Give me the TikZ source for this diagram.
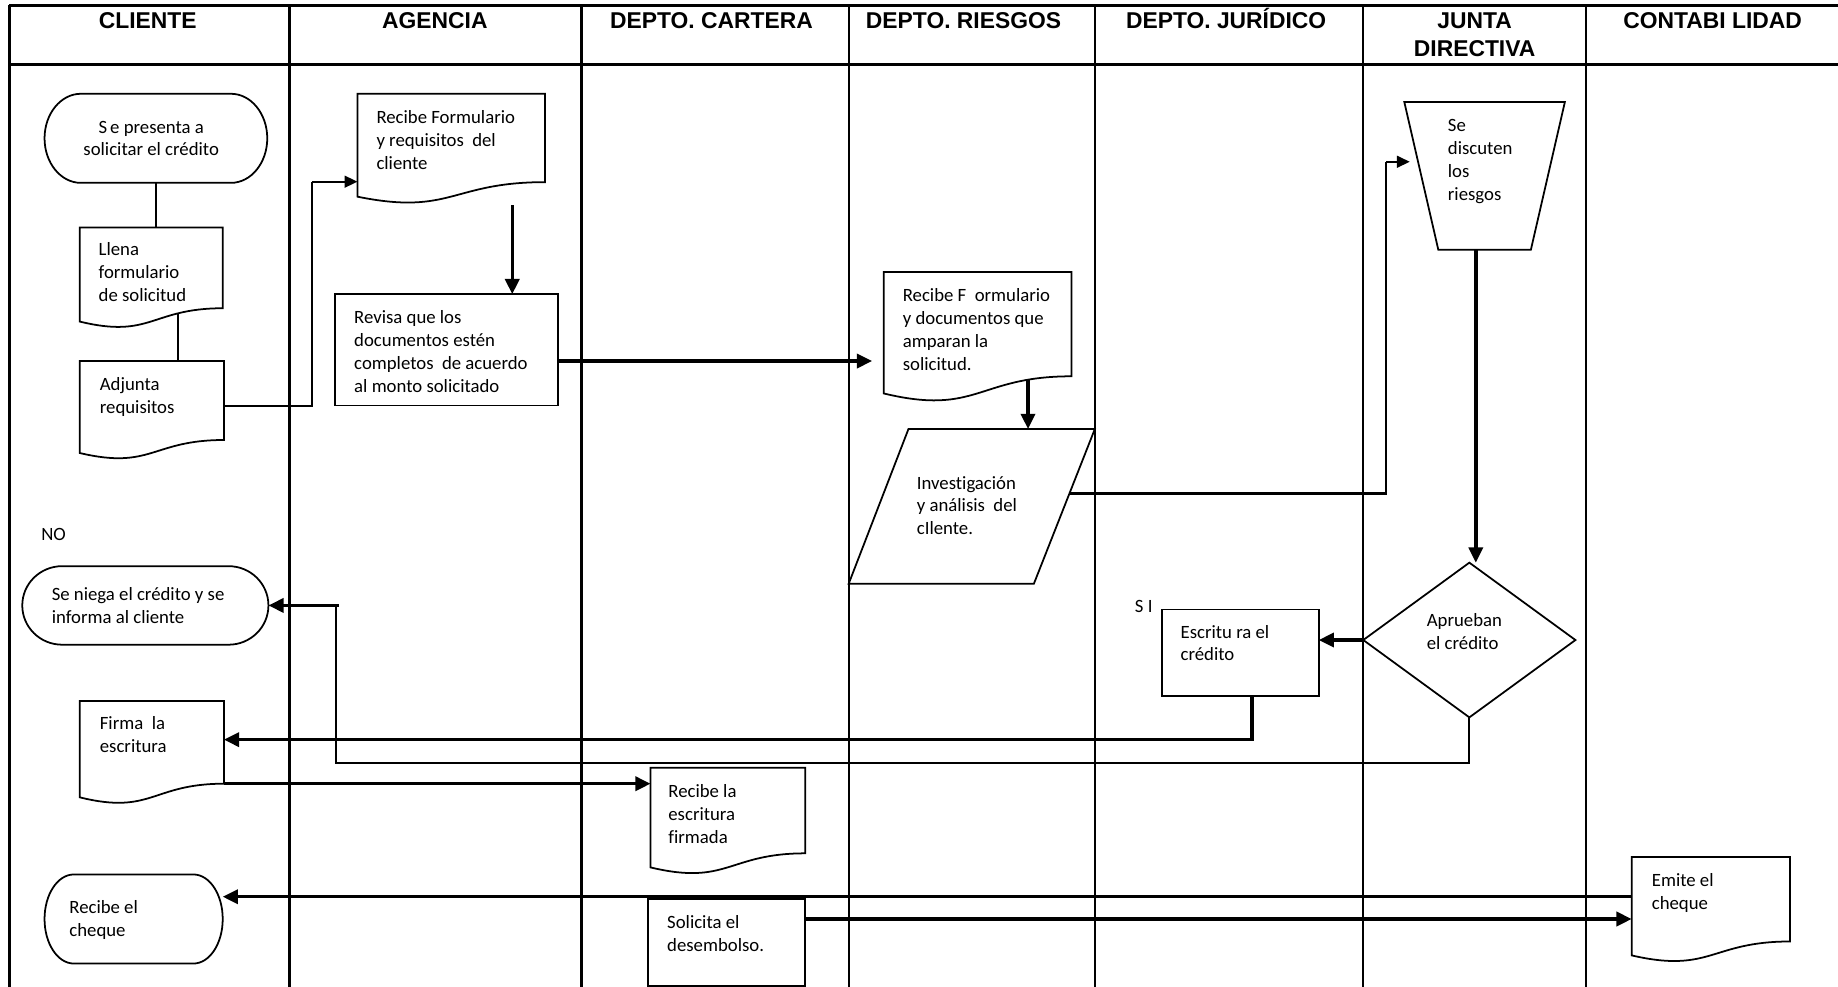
\documentclass[tikz,border=0pt]{standalone}
\usepackage{fontspec}
\setmainfont{Carlito}[Ligatures=NoCommon]
\newfontfamily\hdrfont{Liberation Sans}
\usetikzlibrary{arrows.meta,calc}

% outline of a flowchart "document" shape, built on a placeholder node
\newcommand\docshape[1]{%
  \draw[shp] (#1.north west) -- (#1.north east)
    -- ($(#1.north east)!0.802!(#1.south east)$) coordinate (#1-r)
    .. controls ($(#1.north)!0.802!(#1.south)$) and ($(#1.north)!1.107!(#1.south)$)
    .. ($(#1.north west)!0.934!(#1.south west)$) -- cycle;}
% terminator with elliptical ends: #2 = x radius, #3 = y radius
\newcommand\termshape[3]{%
  \draw[shp] ($(#1.north east)+(-#2,0)$)
    arc[start angle=-90,end angle=90,x radius=#2,y radius=#3]
    -- ($(#1.south west)+(#2,0)$)
    arc[start angle=90,end angle=270,x radius=#2,y radius=#3] -- cycle;}

\tikzset{
  slot/.style n args={2}{minimum width=#1, minimum height=#2, inner sep=0pt,
    outer sep=0pt, anchor=north west, draw=none},
  shp/.style={line width=1.5pt, line join=miter},
  lane/.style={line width=2pt},
  hline/.style={line width=2.8pt},
  txt/.style={font=\fontsize{16}{19.5}\selectfont, align=left, inner sep=0pt,
    anchor=north west, yshift=-5pt, execute at begin node=\strut},
  lbl/.style={txt, yshift=3pt},
  hdr/.style={font=\hdrfont\bfseries\fontsize{19.5}{24}\selectfont, align=center,
    inner sep=0pt, anchor=base},
  thk/.style={line width=2.9pt, -{Triangle[length=13pt,width=12pt]}},
  med/.style={line width=1.8pt},
  medarr/.style={line width=1.8pt, -{Triangle[length=11pt,width=10pt]}},
  thn/.style={line width=1.2pt},
}

\begin{document}
\begin{tikzpicture}[x=1pt,y=-1pt]
\useasboundingbox (0,0) rectangle (1568,842);

% ---- swimlane grid ----
\draw[hline] (8,5) -- (1568,5);
\draw[hline] (8,55) -- (1568,55);
\foreach \lx in {8,247,496,724,934,1163,1353}
  \draw[lane] (\lx,4) -- (\lx,842);

\node[hdr] (h1) at (126,24) {CLIENTE};
\node[hdr] (h2) at (371,24) {AGENCIA};
\node[hdr] (h3) at (607,24) {DEPTO. CARTERA};
\node[hdr] (h4) at (822,24) {DEPTO. RIESGOS};
\node[hdr] (h5) at (1046,24) {DEPTO. JURÍDICO};
\node[hdr] (h6) at (1258,24) {JUNTA};
\node[hdr] (h6b) at (1258,48) {DIRECTIVA};
\node[hdr] (h7) at (1461,24) {CONTABI LIDAD};

% ---- placeholder nodes for the shapes ----
\node[slot={190}{76}]  (a1) at (38,80) {};
\node[slot={122}{86}]  (a2) at (68,194) {};
\node[slot={123}{84}]  (a3) at (68,308) {};
\node[slot={210}{67}]  (a4) at (19,483) {};
\node[slot={123}{88}]  (a5) at (68,598) {};
\node[slot={152}{76}]  (a6) at (38,746) {};
\node[slot={160}{94}]  (b1) at (305,80) {};
\node[slot={190}{95}]  (b2) at (286,251) {};
\node[slot={132}{91}]  (c1) at (555,655) {};
\node[slot={134}{74}]  (c2) at (553,767) {};
\node[slot={160}{111}] (d1) at (754,232) {};
\node[slot={210}{132}] (d2) at (724,366) {};
\node[slot={134}{74}]  (r1) at (991,520) {};
\node[slot={137}{126}] (j1) at (1198,87) {};
\node[slot={181}{132}] (j2) at (1163,480) {};
\node[slot={135}{90}]  (k1) at (1392,731) {};

% ---- shapes ----
\termshape{a1}{31}{38}
\docshape{a2}
\docshape{a3}
\termshape{a4}{34}{33.5}
\docshape{a5}
\termshape{a6}{25}{38}
\docshape{b1}
\draw[shp] (b2.north west) rectangle (b2.south east);
\docshape{c1}
\draw[shp] (c2.north west) rectangle (c2.south east);
\docshape{d1}
\draw[shp] ($(d2.north west)+(51,0)$) -- (d2.north east)
  -- ($(d2.south east)+(-52,0)$) -- (d2.south west) -- cycle;
\draw[shp] (r1.north west) rectangle (r1.south east);
\draw[shp] (j1.north west) -- (j1.north east) -- ($(j1.south east)+(-29,0)$)
  -- ($(j1.south west)+(29,0)$) -- cycle;
\draw[shp] (j2.north) -- (j2.east) -- (j2.south) -- (j2.west) -- cycle;
\docshape{k1}

% ---- texts ----
\node[txt, align=center, anchor=north] (a1t) at (129,98) {S\,e presenta a\\solicitar el crédito};
\node[txt] (a2t) at (84,202) {Llena\\formulario\\de solicitud};
\node[txt] (a3t) at (85,317) {Adjunta\\requisitos};
\node[lbl] (not) at (35,445) {NO};
\node[txt] (a4t) at (44,496) {Se niega el crédito y se\\informa al cliente};
\node[txt] (a5t) at (85,606) {Firma\ \ la\\escritura};
\node[txt] (a6t) at (59,763) {Recibe el\\cheque};
\node[txt] (b1t) at (321,89) {Recibe Formulario\\y requisitos\ \ del\\cliente};
\node[txt] (b2t) at (302,260) {Revisa que los\\documentos estén\\completos\ \ de acuerdo\\al monto solicitado};
\node[txt] (c1t) at (570,664) {Recibe la\\escritura\\firmada};
\node[txt] (c2t) at (569,776) {Solicita el\\desembolso.};
\node[txt] (d1t) at (770,241) {Recibe F\ \ ormulario\\y documentos que\\amparan la\\solicitud.};
\node[txt] (d2t) at (782,401) {Investigación\\y análisis\ \ del\\cIlente.};
\node[lbl] (sit) at (968,507) {S I};
\node[txt] (r1t) at (1007,528) {Escritu ra el\\crédito};
\node[txt] (j1t) at (1235,97) {Se\\discuten\\los\\riesgos};
\node[txt] (j2t) at (1217,518) {Aprueban\\el crédito};
\node[txt] (k1t) at (1409,740) {Emite el\\cheque};

% ---- connector anchor points ----
\coordinate (a2o) at ($(a2.north west)+(84,73)$);
\coordinate (a3o) at ($(a3.north east)+(0,38)$);
\coordinate (b1in) at ($(b1.north west)+(0,75)$);
\coordinate (cb) at ($(b1in)+(-39,0)$);
\coordinate (b1o) at ($(b1.south west)+(132,1)$);
\coordinate (b2o) at ($(b2.east)+(0,9.5)$);
\coordinate (d1o) at ($(d1.north west)+(123,92)$);
\coordinate (d2o) at ($(d2.north east)+(-21.7,55)$);
\coordinate (j1in) at ($(j1.north west)+(11.7,51)$);
\coordinate (cj) at ($(j1in)+(-27,0)$);
\coordinate (j1o) at ($(j1.south west)+(61,0)$);
\coordinate (r1o) at ($(r1.south west)+(77,0)$);
\coordinate (a5in) at ($(a5.north east)+(0,33)$);
\coordinate (nb) at (287,651);
\coordinate (c2o) at ($(c2.north east)+(0,17)$);
\coordinate (k1o) at ($(k1.north west)+(0,34)$);

% ---- connectors ----
\draw[thn] (a1.south) -- (a1.south |- a2.north);
\draw[thn] (a2o) -- (a2o |- a3.north);
\draw[med] (a3o) -| (cb);
\draw[medarr] (cb) -- (b1in);
\draw[thk] (b1o) -- (b1o |- b2.north);
\draw[thk, shorten >=10pt] (b2o) -- (b2o -| d1.west);
\draw[thk] (d1o) -- (d1o |- d2.north);
\draw[med] (d2o) -| (cj);
\draw[medarr, shorten >=7pt] (cj) -- (j1in);
\draw[thk] (j1o) -- (j1o |- j2.north);
\draw[thk] (j2.west) -- (j2.west -| r1.east);
\draw[thk] (r1o) |- (a5in);
\draw[med] (j2.south) |- (nb) -- (nb |- a4.east);
\draw[thk] ($(nb |- a4.east)+(2,0)$) -- (a4.east);
\draw[thk] (a5-r) -- (a5-r -| c1.west);
\draw[thk] (c2o) -- (c2o -| k1.west);
\draw[thk] (k1o) -- (k1o -| a6.east);
\end{tikzpicture}
\end{document}
